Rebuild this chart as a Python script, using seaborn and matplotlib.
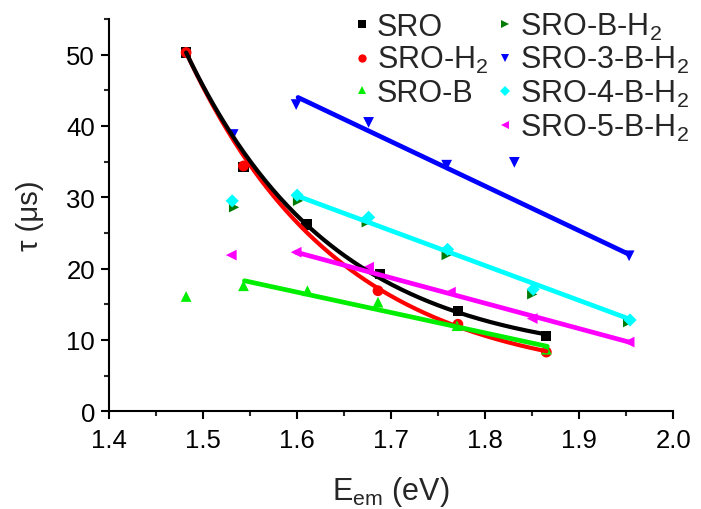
import numpy as np
import pandas as pd
import matplotlib
matplotlib.use("Agg")
import matplotlib.pyplot as plt
from matplotlib.lines import Line2D
from matplotlib.ticker import MultipleLocator, FormatStrFormatter
import seaborn as sns

# ---- measured lifetimes vs emission energy ----
sro_x = [1.482, 1.543, 1.610, 1.688, 1.771, 1.865]
sro_y = [50.3, 34.2, 26.2, 19.2, 14.1, 10.6]

sro_h2_x = [1.482, 1.543, 1.686, 1.771, 1.865]
sro_h2_y = [50.3, 34.4, 16.9, 12.2, 8.3]

sro_b_x = [1.482, 1.543, 1.611, 1.686, 1.770, 1.865]
sro_b_y = [16.1, 17.6, 16.9, 15.3, 12.0, 8.7]

sro_bh2_x = [1.533, 1.601, 1.674, 1.759, 1.850, 1.952]
sro_bh2_y = [28.6, 29.5, 26.5, 21.9, 16.4, 12.5]

sro3_x = [1.532, 1.599, 1.676, 1.759, 1.831, 1.953]
sro3_y = [38.8, 43.0, 40.5, 34.5, 34.9, 21.8]

sro4_x = [1.531, 1.600, 1.676, 1.760, 1.851, 1.954]
sro4_y = [29.5, 30.3, 27.2, 22.7, 17.1, 12.8]

sro5_x = [1.530, 1.599, 1.676, 1.763, 1.850, 1.953]
sro5_y = [21.9, 22.3, 20.2, 16.7, 13.0, 9.7]

# ---- fitted curves ----
# exponential decay  y = y0 + A * exp(-(x - x0) / t)
sro_fit = dict(x0=1.482, x1=1.865, y0=7.0, A=43.3, t=0.157)
sro_h2_fit = dict(x0=1.482, x1=1.865, y0=4.0, A=46.3, t=0.163)
# linear fits: end points
sro_b_line_x = [1.544, 1.866]
sro_b_line_y = [18.3, 9.1]
sro3_line_x = [1.601, 1.953]
sro3_line_y = [44.0, 22.0]
sro4_line_x = [1.598, 1.954]
sro4_line_y = [30.3, 12.9]
sro5_line_x = [1.599, 1.953]
sro5_line_y = [22.3, 9.7]

labels = ["SRO", "SRO-H$_2$", "SRO-B", "SRO-B-H$_2$",
          "SRO-3-B-H$_2$", "SRO-4-B-H$_2$", "SRO-5-B-H$_2$"]
colors = ["#000000", "#ff0000", "#00ee00", "#007a00",
          "#0000ff", "#00ffff", "#ff00ff"]
markers = ["s", "o", "^", ">", "v", "D", "<"]
msizes = [55, 60, 60, 55, 60, 45, 60]

sns.set_style("ticks")
plt.rcParams["font.family"] = ["Liberation Sans", "DejaVu Sans"]
plt.rcParams["mathtext.fontset"] = "custom"
plt.rcParams["mathtext.rm"] = "Liberation Sans"
plt.rcParams["mathtext.it"] = "Liberation Sans:italic"
plt.rcParams["mathtext.bf"] = "Liberation Sans:bold"

fig = plt.figure(figsize=(7.01, 5.10), dpi=100)
ax = fig.add_axes([0.1555, 0.1916, 0.805, 0.7692])

series = [(sro_x, sro_y), (sro_h2_x, sro_h2_y), (sro_b_x, sro_b_y),
          (sro_bh2_x, sro_bh2_y), (sro3_x, sro3_y), (sro4_x, sro4_y),
          (sro5_x, sro5_y)]

# scatter points (dark green first so cyan sits over it)
order = [3, 0, 1, 2, 4, 5, 6]
for i in order:
    xs, ys = series[i]
    df = pd.DataFrame({"x": xs, "y": ys})
    sns.scatterplot(data=df, x="x", y="y", ax=ax, color=colors[i],
                    marker=markers[i], s=msizes[i], edgecolor="none",
                    zorder=2, legend=False)

def exp_curve(p):
    xs = np.linspace(p["x0"], p["x1"], 200)
    ys = p["y0"] + p["A"] * np.exp(-(xs - p["x0"]) / p["t"])
    return pd.DataFrame({"x": xs, "y": ys})

sns.lineplot(data=exp_curve(sro_h2_fit), x="x", y="y", ax=ax,
             color=colors[1], lw=3.0, zorder=3)
sns.lineplot(data=exp_curve(sro_fit), x="x", y="y", ax=ax,
             color=colors[0], lw=3.0, zorder=4)
for (lx, ly), c in [((sro_b_line_x, sro_b_line_y), colors[2]),
                    ((sro3_line_x, sro3_line_y), colors[4]),
                    ((sro4_line_x, sro4_line_y), colors[5]),
                    ((sro5_line_x, sro5_line_y), colors[6])]:
    sns.lineplot(data=pd.DataFrame({"x": lx, "y": ly}), x="x", y="y",
                 ax=ax, color=c, lw=3.4, zorder=5)

ax.set_xlim(1.4, 2.0)
ax.set_ylim(0, 55)
ax.xaxis.set_major_locator(MultipleLocator(0.1))
ax.xaxis.set_minor_locator(MultipleLocator(0.05))
ax.xaxis.set_major_formatter(FormatStrFormatter("%.1f"))
ax.yaxis.set_major_locator(MultipleLocator(10))
ax.yaxis.set_minor_locator(MultipleLocator(5))
ax.tick_params(axis="both", which="major", direction="out", length=6,
               width=1.5, labelsize=18.5, colors="black")
ax.tick_params(axis="x", which="major", pad=6)
ax.tick_params(axis="y", which="major", pad=4)
ax.tick_params(axis="both", which="minor", direction="out", length=3.5,
               width=1.5)
for s in ["top", "right"]:
    ax.spines[s].set_visible(False)
for s in ["left", "bottom"]:
    ax.spines[s].set_linewidth(1.5)
    ax.spines[s].set_color("black")

ax.set_xlabel("E$_{\\mathregular{em}}$ (eV)", fontsize=22, labelpad=16)
ax.set_ylabel("τ (μs)", fontsize=21, labelpad=16)

# legend: three entries in the first column, four in the second
handles = [Line2D([], [], ls="none", marker=m, color=c, markersize=6,
                  markeredgewidth=0) for m, c in zip(markers, colors)]
handles[5] = Line2D([], [], ls="none", marker="D", color=colors[5],
                    markersize=5, markeredgewidth=0)
blank = Line2D([], [], ls="none", marker=None)
leg_handles = handles[:3] + [blank] + handles[3:]
leg_labels = labels[:3] + [" "] + labels[3:]
ax.legend(leg_handles, leg_labels, ncol=2, loc="upper left",
          bbox_to_anchor=(0.415, 1.052), frameon=False, fontsize=22,
          handlelength=0.4, handletextpad=0.3, columnspacing=0.35,
          labelspacing=0.08, borderaxespad=0.0)

fig.savefig("out.png", dpi=100)
